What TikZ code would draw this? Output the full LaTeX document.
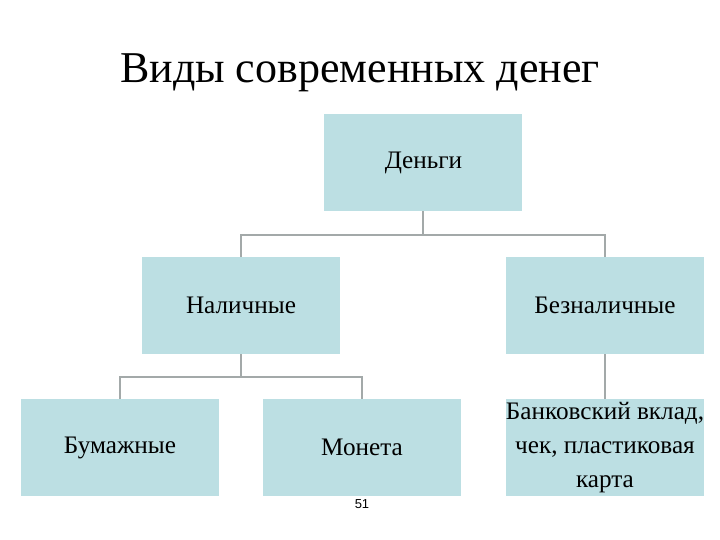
\documentclass[tikz,border=0pt]{standalone}
\usepackage{fontspec}
\setmainfont{Liberation Serif}
\newfontfamily\numfont{Liberation Sans}
\definecolor{boxfill}{HTML}{BCDFE3}
\definecolor{linecol}{HTML}{A3A9A9}
\begin{document}
\begin{tikzpicture}[x=0.5pt,y=-0.5pt,
  box/.style={fill=boxfill, draw=none, minimum width=99pt, minimum height=48.5pt, inner sep=0pt, anchor=center, align=center, font=\fontsize{12.6}{17}\selectfont},
  conn/.style={draw=linecol, line width=1pt}]
\useasboundingbox (0,0) rectangle (720,540);
\node[font=\fontsize{22}{26}\selectfont] (title) at (360,73) {Виды современных денег};
\node[box] (money) at (423.5,162.5) {Деньги};
\node[box] (cash) at (241,305.5) {Наличные};
\node[box] (noncash) at (605,305.5) {Безналичные};
\node[box] (paper) at (120,447.5) {Бумажные};
\node[box] (coin) at (362,447.5) {Монета};
\node[box] (bank) at (605,447.5) {Банковский вклад,\\чек, пластиковая\\карта};
\node[font=\numfont\fontsize{6.5}{7}\selectfont] (page) at (362,504) {51};
\coordinate (j1) at (423.5,235);
\coordinate (j2) at (241,377);
\draw[conn] (money.south) -- (j1);
\draw[conn] (cash.north) -- (cash.north |- j1) -- (noncash.north |- j1) -- (noncash.north);
\draw[conn] (cash.south) -- (j2);
\draw[conn] (paper.north) -- (paper.north |- j2) -- (coin.north |- j2) -- (coin.north);
\draw[conn] (noncash.south) -- (bank.north);
\end{tikzpicture}
\end{document}
